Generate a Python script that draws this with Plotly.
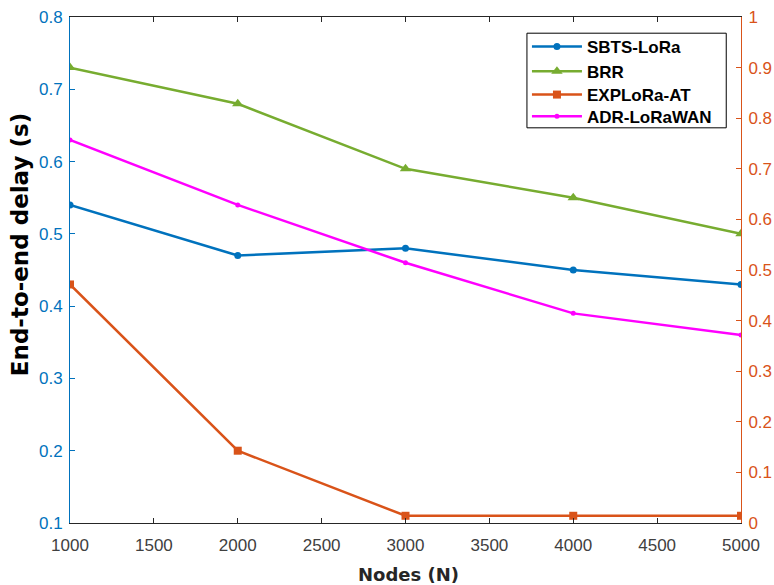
import plotly.graph_objects as go

nodes = [1000, 2000, 3000, 4000, 5000]
sbts_lora = [0.54, 0.47, 0.48, 0.45, 0.43]
brr = [0.73, 0.68, 0.59, 0.55, 0.50]
explora_at = [0.43, 0.20, 0.11, 0.11, 0.11]
adr_lorawan = [0.63, 0.54, 0.46, 0.39, 0.36]

x_ticks = [1000, 1500, 2000, 2500, 3000, 3500, 4000, 4500, 5000]
left_ticks = [0.1, 0.2, 0.3, 0.4, 0.5, 0.6, 0.7, 0.8]
right_ticks = [0, 0.1, 0.2, 0.3, 0.4, 0.5, 0.6, 0.7, 0.8, 0.9, 1]
right_labels = ["0", "0.1", "0.2", "0.3", "0.4", "0.5", "0.6", "0.7", "0.8", "0.9", "1"]

BLUE = "#0072BD"
GREEN = "#77AC30"
ORANGE = "#D95319"
MAGENTA = "#FF00FF"
FONT = "Arial, Liberation Sans, Helvetica, sans-serif"
TITLE_FONT = "DejaVu Sans, Arial, sans-serif"

fig = go.Figure()
fig.add_trace(go.Scatter(x=nodes, y=sbts_lora, name="SBTS-LoRa", mode="lines+markers",
                         line=dict(color=BLUE, width=2.5), legend="legend",
                         marker=dict(symbol="circle", size=7, color=BLUE)))
fig.add_trace(go.Scatter(x=nodes, y=brr, name="BRR", mode="lines+markers",
                         line=dict(color=GREEN, width=2.5), legend="legend2",
                         marker=dict(symbol="triangle-up", size=10, color=GREEN)))
fig.add_trace(go.Scatter(x=nodes, y=explora_at, name="EXPLoRa-AT", mode="lines+markers",
                         line=dict(color=ORANGE, width=2.5), legend="legend3",
                         marker=dict(symbol="square", size=8, color=ORANGE)))
fig.add_trace(go.Scatter(x=nodes, y=adr_lorawan, name="ADR-LoRaWAN", mode="lines+markers",
                         line=dict(color=MAGENTA, width=2.5), legend="legend4",
                         marker=dict(symbol="circle", size=5, color=MAGENTA)))
# empty trace to carry the right-hand axis
fig.add_trace(go.Scatter(x=[None], y=[None], yaxis="y2", showlegend=False, hoverinfo="skip"))


def legend_at(y):
    return dict(x=0.681, y=y, xanchor="left", yanchor="middle",
                bgcolor="rgba(0,0,0,0)", borderwidth=0,
                font=dict(family=FONT, size=17, color="black", weight="bold"),
                itemwidth=50)


fig.update_layout(
    width=774, height=585,
    margin=dict(l=70, r=33, t=17, b=62, autoexpand=False),
    paper_bgcolor="white", plot_bgcolor="white",
    font=dict(family=FONT, size=17, color="#262626"),
    xaxis=dict(
        range=[1000, 5000], tickvals=x_ticks, ticktext=[str(v) for v in x_ticks],
        ticks="inside", ticklen=5, tickcolor="#262626", showline=True, linecolor="#262626",
        linewidth=1, mirror="ticks", showgrid=False, zeroline=False, automargin=False,
        tickfont=dict(size=17, color="#404040"), ticklabelstandoff=7,
        ticklabeloverflow="allow",
    ),
    yaxis=dict(
        range=[0.1, 0.8], tickvals=left_ticks, tickformat=".1f",
        ticks="inside", ticklen=5, tickcolor=BLUE, showline=True, linecolor=BLUE,
        linewidth=1, showgrid=False, zeroline=False, automargin=False,
        tickfont=dict(size=17, color=BLUE), ticklabelstandoff=3,
        ticklabeloverflow="allow",
    ),
    yaxis2=dict(
        range=[0, 1], overlaying="y", side="right",
        tickvals=right_ticks, ticktext=right_labels,
        ticks="inside", ticklen=5, tickcolor=ORANGE, showline=True, linecolor=ORANGE,
        linewidth=1, showgrid=False, zeroline=False, automargin=False,
        tickfont=dict(size=17, color=ORANGE), ticklabelstandoff=3,
        ticklabeloverflow="allow",
    ),
    legend=legend_at(0.9407),
    legend2=legend_at(0.8919),
    legend3=legend_at(0.8458),
    legend4=legend_at(0.8030),
    showlegend=True,
    shapes=[
        dict(type="rect", xref="paper", yref="paper",
             x0=0.681, x1=0.978, y0=0.781, y1=0.968,
             line=dict(color="black", width=1), fillcolor="white", layer="above"),
    ],
    annotations=[
        dict(text="<b>End-to-end delay (s)</b>", xref="paper", yref="paper",
             x=0, y=0.549, xanchor="center", yanchor="middle", xshift=-50,
             textangle=-90, showarrow=False,
             font=dict(family=TITLE_FONT, size=23, color="black")),
        dict(text="<b>Nodes (N)</b>", xref="paper", yref="paper",
             x=0.504, y=0, xanchor="center", yanchor="middle", yshift=-51,
             showarrow=False,
             font=dict(family=TITLE_FONT, size=18, color="#262626")),
    ],
)

fig.write_html("out.html", config={"displayModeBar": False},
               post_script="document.body.style.margin='0';")
